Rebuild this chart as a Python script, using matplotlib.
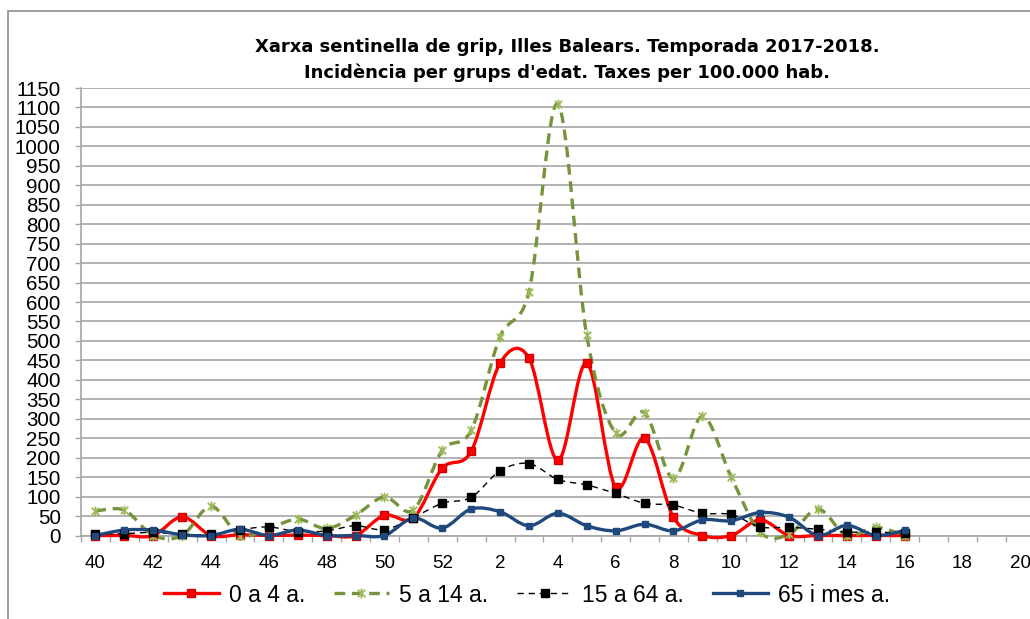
import matplotlib
matplotlib.use("Agg")
import matplotlib.pyplot as plt
from matplotlib.path import Path
from matplotlib.patches import PathPatch, Rectangle
from matplotlib.lines import Line2D
from matplotlib.ticker import FixedLocator, MultipleLocator

plt.rcParams['font.family'] = ['Liberation Sans', 'DejaVu Sans']

# weeks of the season (categories on the x axis)
weeks = list(range(40, 53)) + list(range(1, 21))

# rates per 100.000 inhabitants, weeks 40..52 and 1..16
age_0_4 = [0, 0, 0, 48, 0, 2, 0, 1, 0, 0, 52, 45, 173,
           216, 443, 456, 193, 443, 124, 250, 47, 0, 0, 40, 0, 0, 0, 0, 0]
age_5_14 = [63, 65, 0, 0, 75, 0, 18, 42, 18, 52, 99, 65, 219,
            270, 511, 627, 1109, 514, 263, 316, 147, 306, 150, 8, 3, 68, 0, 21, 0]
age_15_64 = [5, 5, 8, 3, 3, 15, 22, 10, 12, 25, 15, 46, 83,
             98, 166, 185, 144, 130, 108, 83, 78, 57, 54, 22, 21, 16, 9, 9, 6]
age_65 = [0, 14, 14, 2, 0, 16, 0, 14, 0, 0, 0, 45, 19,
          68, 61, 25, 57, 25, 12, 29, 12, 40, 38, 59, 47, 0, 26, 0, 13]

names = ["0 a 4 a.", "5 a 14 a.", "15 a 64 a.", "65 i mes a."]

# excel style "star" marker: an x with a vertical bar
star = Path([(-1, -1), (1, 1), (-1, 1), (1, -1), (0, -1.3), (0, 1.3)],
            [Path.MOVETO, Path.LINETO, Path.MOVETO, Path.LINETO, Path.MOVETO, Path.LINETO])


def smooth_path(xs, ys):
    # bezier through the points, like excel's smoothed line
    verts = [(xs[0], ys[0])]
    codes = [Path.MOVETO]
    n = len(xs)
    for i in range(n - 1):
        a = i - 1 if i > 0 else i
        d = i + 2 if i + 2 < n else i + 1
        c1 = (xs[i] + (xs[i + 1] - xs[a]) / 6, ys[i] + (ys[i + 1] - ys[a]) / 6)
        c2 = (xs[i + 1] - (xs[d] - xs[i]) / 6, ys[i + 1] - (ys[d] - ys[i]) / 6)
        verts += [c1, c2, (xs[i + 1], ys[i + 1])]
        codes += [Path.CURVE4] * 3
    return Path(verts, codes)


styles = [
    dict(color='#FF0000', lw=2.4, ls='-', marker='s', ms=5.5, mfc='#FF0000', mec='#D00000', mew=1),
    dict(color='#77933C', lw=2.4, ls=(0, (3.2, 2.0)), marker=star, ms=7, mfc='none', mec='#9BBB59', mew=1.3),
    dict(color='#000000', lw=1.0, ls=(0, (4.5, 3.5)), marker='s', ms=6.2, mfc='#000000', mec='#000000', mew=1),
    dict(color='#1F497D', lw=2.4, ls='-', marker='s', ms=5, mfc='#1F497D', mec='#1F497D', mew=1),
]

fig = plt.figure(figsize=(10.3, 6.19), dpi=100)
fig.patches.append(Rectangle((8 / 1030, -0.1), 1.2, 1.1 - 11 / 619, transform=fig.transFigure,
                             fill=False, edgecolor='#8C8C8C', lw=1.2, zorder=0))

ax = fig.add_axes([81 / 1030, 1 - 535.5 / 619, 953.7 / 1030, 447.5 / 619])
ax.set_xlim(-0.5, len(weeks) - 0.5)
ax.set_ylim(0, 1150)

x = list(range(len(age_0_4)))
handles = []
for ys, st, nm in zip([age_0_4, age_5_14, age_15_64, age_65], styles, names):
    patch = PathPatch(smooth_path(x, ys), fill=False, edgecolor=st['color'], lw=st['lw'],
                      linestyle=st['ls'], capstyle='butt', joinstyle='round', zorder=3)
    patch.set_clip_on(False)
    ax.add_patch(patch)
    ax.plot(x, ys, ls='none', marker=st['marker'], ms=st['ms'], mfc=st['mfc'],
            mec=st['mec'], mew=st['mew'], zorder=4, clip_on=False)
    handles.append(Line2D([], [], color=st['color'], lw=st['lw'], ls=st['ls'], marker=st['marker'],
                          ms=st['ms'], mfc=st['mfc'], mec=st['mec'], mew=st['mew']))

# gridlines and axes
ax.yaxis.set_major_locator(MultipleLocator(50))
ax.yaxis.grid(True, color='#A6A6A6', lw=1.2)
ax.set_axisbelow(True)
ax.xaxis.set_major_locator(FixedLocator(list(range(0, len(weeks), 2))))
ax.set_xticklabels([weeks[i] for i in range(0, len(weeks), 2)])
ax.xaxis.set_minor_locator(FixedLocator([i - 0.5 for i in range(len(weeks) + 1)]))
ax.tick_params(axis='x', which='major', length=0, pad=14, labelsize=13.5)
ax.tick_params(axis='x', which='minor', length=4.5, width=1, color='#A6A6A6', direction='out')
ax.tick_params(axis='y', length=4.5, width=1, color='#A6A6A6', pad=10, labelsize=14.8)
for s in ['top', 'right']:
    ax.spines[s].set_visible(False)
for s in ['left', 'bottom']:
    ax.spines[s].set_color('#A6A6A6')
    ax.spines[s].set_linewidth(1.2)

fig.text(567 / 1030, 1 - 60 / 619,
         "Xarxa sentinella de grip, Illes Balears. Temporada 2017-2018.\n"
         "Incidència per grups d'edat. Taxes per 100.000 hab.",
         ha='center', va='center', fontsize=13, fontweight='bold', linespacing=1.45,
         family='DejaVu Sans')

fig.legend(handles, names, loc='center', bbox_to_anchor=(527 / 1030, 1 - 595 / 619), ncol=4,
           frameon=False, fontsize=16.5, handlelength=2.4, handletextpad=0.45, columnspacing=1.25)

fig.savefig("out.png", dpi=100)
